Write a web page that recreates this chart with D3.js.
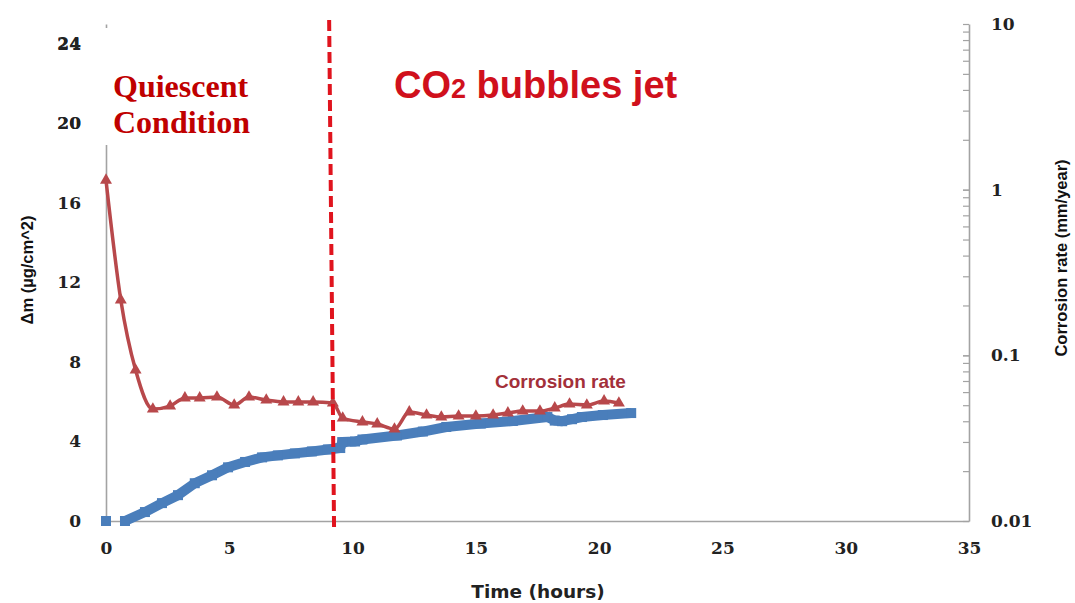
<!DOCTYPE html>
<html>
<head>
<meta charset="utf-8">
<script src="https://cdn.jsdelivr.net/npm/d3@7"></script>
<style>
  html, body { margin: 0; padding: 0; background: #fff; }
  svg { display: block; }
</style>
</head>
<body>
<svg id="chart" width="1075" height="603"></svg>
<script>
// Mass gain (left axis, µg/cm^2) versus time in hours
const massTime  = [0, 0.77, 1.58, 2.27, 2.92, 3.6, 4.3, 4.95, 5.64, 6.33, 6.97, 7.66, 8.35, 9.0, 9.5, 9.58, 10.1, 10.4, 11.8, 12.85, 13.8, 15.2, 16.5, 17.9, 18.2, 18.5, 18.9, 19.3, 20.15, 21.3];
const massValue = [0, 0.0, 0.45, 0.9, 1.3, 1.9, 2.3, 2.7, 2.97, 3.2, 3.3, 3.4, 3.5, 3.6, 3.67, 3.97, 4.0, 4.1, 4.3, 4.5, 4.73, 4.9, 5.03, 5.23, 5.05, 5.02, 5.12, 5.23, 5.33, 5.43];

// Corrosion rate (right axis, mm/year, log scale)
const rateTime  = [0, 0.6, 1.2, 1.9, 2.6, 3.2, 3.8, 4.5, 5.2, 5.8, 6.5, 7.2, 7.8, 8.4, 9.2, 9.6, 10.4, 11.0, 11.7, 12.3, 13.0, 13.6, 14.3, 15.0, 15.7, 16.3, 16.9, 17.6, 18.2, 18.8, 19.5, 20.2, 20.8];
const rateValue = [1.14, 0.216, 0.0815, 0.0474, 0.0494, 0.0553, 0.0553, 0.056, 0.0501, 0.056, 0.0537, 0.0523, 0.0523, 0.0523, 0.0515, 0.0418, 0.0396, 0.0385, 0.0359, 0.0455, 0.0436, 0.0424, 0.043, 0.043, 0.0436, 0.0449, 0.0461, 0.0461, 0.0481, 0.0508, 0.0501, 0.053, 0.0515];

// Axis ticks
const xTicks = [0, 5, 10, 15, 20, 25, 30, 35];
const leftTicks = [0, 4, 8, 12, 16, 20, 24];
const rightLabels = [0.01, 0.1, 1, 10];

// Switch from quiescent condition to CO2 jet (hours)
const jetStartTop = 9.05;
const jetStartBottom = 9.25;

const svg = d3.select("#chart");

const plot = { left: 106, right: 969, top: 24, bottom: 521 };

const x = d3.scaleLinear().domain([0, 35]).range([plot.left, plot.right]);
const yL = d3.scaleLinear().domain([0, 25]).range([plot.bottom, plot.top]);
const yR = d3.scaleLog().domain([0.01, 10]).range([plot.bottom, plot.top]);

const axisColor = "#a3a3a3";
const tickFont = "'DejaVu Serif', serif";
const tickSize = 17;

// Bottom axis
const xAxis = svg.append("g")
  .attr("transform", `translate(0,${plot.bottom})`)
  .call(d3.axisBottom(x).tickValues(xTicks).tickSize(0).tickPadding(21).tickFormat(d3.format("d")));
xAxis.select(".domain").attr("stroke", axisColor).attr("stroke-width", 1.6);
xAxis.selectAll("text").attr("font-family", tickFont).attr("font-weight", "bold")
  .attr("font-size", tickSize).attr("fill", "#222");

// Left axis
const lAxis = svg.append("g")
  .attr("transform", `translate(${plot.left},0)`)
  .call(d3.axisLeft(yL).tickValues(leftTicks).tickSize(0).tickPadding(25).tickFormat(d3.format("d")));
lAxis.select(".domain").attr("stroke", axisColor).attr("stroke-width", 1.6);
lAxis.selectAll("text").attr("font-family", tickFont).attr("font-weight", "bold")
  .attr("font-size", tickSize).attr("fill", "#222");

// Right log axis with minor ticks pointing inward
const minorTicks = [];
for (let p = -2; p < 1; p++) {
  for (let m = 1; m <= 10; m++) minorTicks.push(m * Math.pow(10, p));
}
const rAxis = svg.append("g")
  .attr("transform", `translate(${plot.right},0)`)
  .call(d3.axisRight(yR).tickValues(minorTicks).tickSizeInner(-6).tickSizeOuter(0).tickFormat(""));
rAxis.select(".domain").attr("stroke", axisColor).attr("stroke-width", 1.6);
rAxis.selectAll(".tick line").attr("stroke", axisColor).attr("stroke-width", 1.2);
rAxis.selectAll(".tick text").remove();
svg.append("g").selectAll("text")
  .data(rightLabels)
  .join("text")
  .attr("x", plot.right + 22)
  .attr("y", d => yR(d))
  .attr("dy", "0.35em")
  .attr("font-family", tickFont).attr("font-weight", "bold")
  .attr("font-size", tickSize).attr("fill", "#222")
  .text(d => String(d));

// Axis titles
svg.append("text")
  .attr("transform", "translate(33,270) rotate(-90)")
  .attr("text-anchor", "middle")
  .attr("font-family", "'Liberation Sans', Arial, sans-serif")
  .attr("font-weight", "bold").attr("font-size", 16.5).attr("fill", "#111")
  .text("Δm (µg/cm^2)");

svg.append("text")
  .attr("transform", "translate(1067,258) rotate(-90)")
  .attr("text-anchor", "middle")
  .attr("font-family", "'Liberation Sans', Arial, sans-serif")
  .attr("font-weight", "bold").attr("font-size", 16.5).attr("fill", "#111")
  .text("Corrosion rate (mm/year)");

svg.append("text")
  .attr("x", 538).attr("y", 598)
  .attr("text-anchor", "middle")
  .attr("font-family", "'DejaVu Sans', Verdana, sans-serif")
  .attr("font-weight", "bold").attr("font-size", 18.5).attr("fill", "#222")
  .text("Time (hours)");

// Mass gain: thick band of square markers
const massPts = massTime.map((t, i) => ({ t, v: massValue[i] }));
const massRun = massPts.filter(d => d.t > 0);
const massColor = "#4a7ebb";
svg.append("path")
  .datum(massRun)
  .attr("fill", "none")
  .attr("stroke", massColor)
  .attr("stroke-width", 10)
  .attr("stroke-linejoin", "round")
  .attr("d", d3.line().x(d => x(d.t)).y(d => yL(d.v)));
svg.append("g").selectAll("rect")
  .data(massPts)
  .join("rect")
  .attr("x", d => x(d.t) - 5)
  .attr("y", d => yL(d.v) - 5)
  .attr("width", 10).attr("height", 10)
  .attr("fill", massColor);

// Corrosion rate line with triangle markers
const ratePts = rateTime.map((t, i) => ({ t, v: rateValue[i] }));
const rateColor = "#b8484b";
svg.append("path")
  .datum(ratePts)
  .attr("fill", "none")
  .attr("stroke", rateColor)
  .attr("stroke-width", 3.5)
  .attr("d", d3.line().curve(d3.curveMonotoneX).x(d => x(d.t)).y(d => yR(d.v)));
svg.append("g").selectAll("path")
  .data(ratePts)
  .join("path")
  .attr("transform", d => `translate(${x(d.t)},${yR(d.v)})`)
  .attr("d", d3.symbol(d3.symbolTriangle, 62))
  .attr("fill", rateColor);

svg.append("text")
  .attr("x", 495).attr("y", 388)
  .attr("font-family", "'Liberation Sans', Arial, sans-serif")
  .attr("font-weight", "bold").attr("font-size", 19).attr("fill", "#a3303a")
  .text("Corrosion rate");

// Annotation: quiescent period label on a white panel
svg.append("rect")
  .attr("x", 96).attr("y", 28).attr("width", 200).attr("height", 117)
  .attr("fill", "#fff");
const q = svg.append("text")
  .attr("font-family", "'Liberation Serif', 'Times New Roman', serif")
  .attr("font-weight", "bold").attr("font-size", 32).attr("fill", "#c00000");
q.append("tspan").attr("x", 113).attr("y", 97).text("Quiescent");
q.append("tspan").attr("x", 113).attr("y", 133).text("Condition");

// Re-draw the left labels hidden by the panel
svg.append("g").selectAll("text")
  .data(leftTicks.filter(d => d >= 20))
  .join("text")
  .attr("x", plot.left - 25)
  .attr("y", d => yL(d))
  .attr("dy", "0.32em")
  .attr("text-anchor", "end")
  .attr("font-family", tickFont).attr("font-weight", "bold")
  .attr("font-size", tickSize).attr("fill", "#222")
  .text(d => d);

// Dashed marker for the start of the CO2 bubbles jet
svg.append("line")
  .attr("x1", x(jetStartTop)).attr("y1", 20)
  .attr("x2", x(jetStartBottom)).attr("y2", 530)
  .attr("stroke", "#e0141e")
  .attr("stroke-width", 4)
  .attr("stroke-dasharray", "11,5");

const co2 = svg.append("text")
  .attr("x", 394).attr("y", 98)
  .attr("font-family", "'Liberation Sans', Arial, sans-serif")
  .attr("font-weight", "bold").attr("font-size", 38).attr("fill", "#d0101c");
co2.append("tspan").text("CO");
co2.append("tspan").attr("font-size", 27).text("2");
co2.append("tspan").text(" bubbles jet");
</script>
</body>
</html>
